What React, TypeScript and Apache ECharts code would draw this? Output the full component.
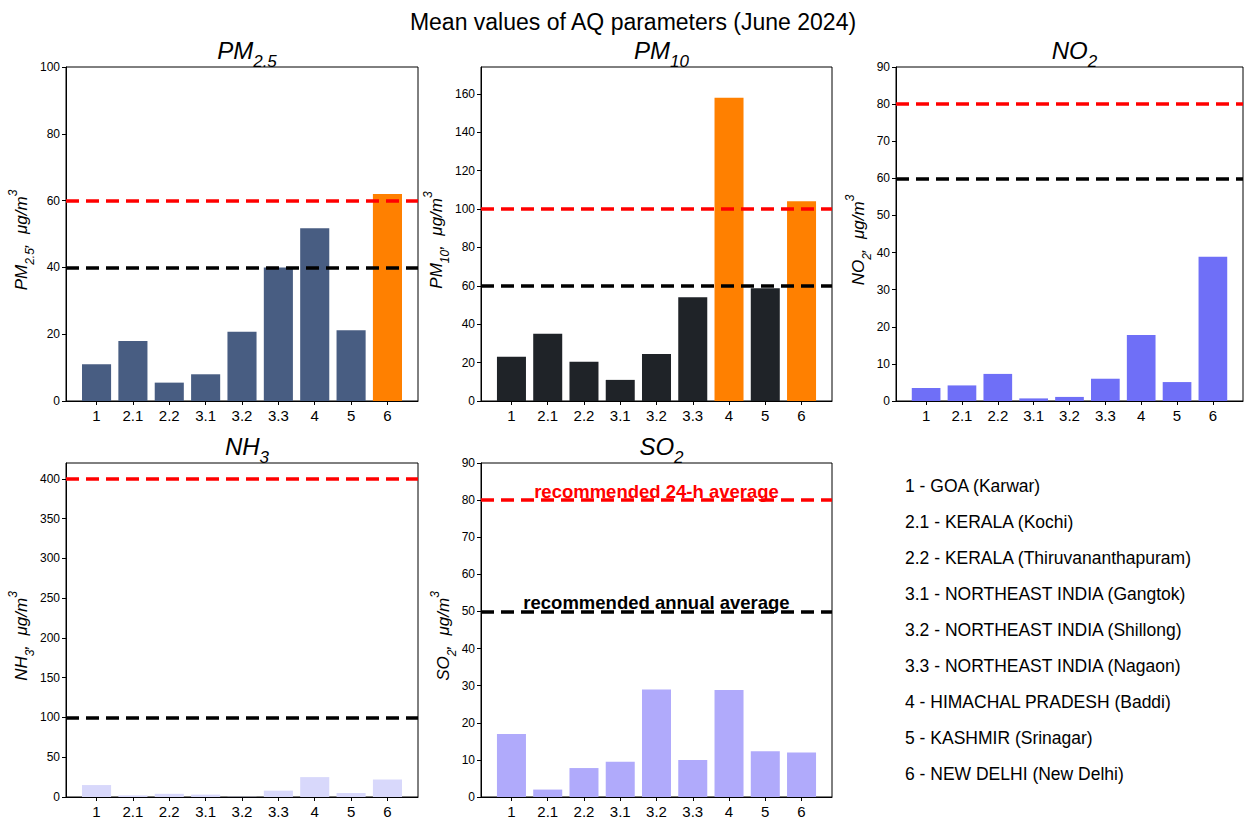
import React, { useEffect, useRef } from "react";
import * as echarts from "echarts";

const categories = ["1", "2.1", "2.2", "3.1", "3.2", "3.3", "4", "5", "6"];
const pm25 = [11, 18, 5.5, 8, 20.7, 40, 51.7, 21.2, 62];
const pm10 = [23, 35, 20.5, 11, 24.5, 54, 158, 58.8, 104];
const no2 = [3.5, 4.2, 7.3, 0.7, 1.1, 6, 17.8, 5.1, 38.9];
const nh3 = [15, 2, 4, 3, 0.3, 8, 25, 5, 22];
const so2 = [17, 2, 7.8, 9.5, 29, 10, 28.8, 12.3, 12];
const limits24h = [60, 100, 80, 400, 80];
const limitsAnnual = [40, 60, 60, 100, 50];
const yMax = [100, 174, 90, 420, 90];
const yInterval = [20, 20, 10, 50, 10];
const legendLines = [
  "1 - GOA (Karwar)",
  "2.1 - KERALA (Kochi)",
  "2.2 - KERALA (Thiruvananthapuram)",
  "3.1 - NORTHEAST INDIA (Gangtok)",
  "3.2 - NORTHEAST INDIA (Shillong)",
  "3.3 - NORTHEAST INDIA (Nagaon)",
  "4 - HIMACHAL PRADESH (Baddi)",
  "5 - KASHMIR (Srinagar)",
  "6 - NEW DELHI (New Delhi)",
];

const FONT = "Liberation Sans, Arial, sans-serif";

export default function App() {
  const ref = useRef<HTMLDivElement>(null);
  useEffect(() => {
    document.body.style.margin = "0";
    const chart = echarts.init(ref.current!, null, { renderer: "svg" });
    const grids = [
      { left: 66, top: 67, width: 352, height: 334 },
      { left: 481, top: 67, width: 351, height: 334 },
      { left: 896, top: 67, width: 347, height: 334 },
      { left: 66, top: 463, width: 352, height: 334 },
      { left: 481, top: 463, width: 351, height: 334 },
    ];
    const datasets = [pm25, pm10, no2, nh3, so2];
    const baseColors = ["#485d82", "#1f2328", "#6f6ff7", "#d8d8fb", "#b0aafb"];
    const exceedColor = "#ff8000";
    const mainNames = ["PM", "PM", "NO", "NH", "SO"];
    const subs = ["2.5", "10", "2", "3", "2"];
    const n = categories.length;
    const xMin = -0.4 - 0.05 * (n - 1 + 0.8);
    const xMax = n - 1 + 0.4 + 0.05 * (n - 1 + 0.8);
    const idx = categories.map((_, k) => k);

    const richName = {
      i: { fontStyle: "italic", fontSize: 17, fontFamily: FONT, color: "#000" },
      s: { fontStyle: "italic", fontSize: 12, fontFamily: FONT, color: "#000", verticalAlign: "bottom", padding: [0, 0, -6, 0] },
      p: { fontStyle: "italic", fontSize: 12, fontFamily: FONT, color: "#000", verticalAlign: "top", padding: [-6, 0, 0, 0] },
    };
    const richTitle = {
      i: { fontStyle: "italic", fontWeight: "normal", fontSize: 24, fontFamily: FONT, color: "#000" },
      s: { fontStyle: "italic", fontWeight: "normal", fontSize: 17, fontFamily: FONT, color: "#000", verticalAlign: "bottom", padding: [0, 0, -8, 0] },
    };

    const option: any = {
      animation: false,
      backgroundColor: "#fff",
      title: [
        {
          text: "Mean values of AQ parameters (June 2024)",
          left: 628,
          top: 5,
          textAlign: "center",
          textStyle: { fontFamily: FONT, fontSize: 23, fontWeight: "normal", color: "#000" },
        },
        ...grids.map((g, i) => ({
          text: `{i|${mainNames[i]}}{s|${subs[i]}}`,
          left: g.left + g.width / 2,
          top: g.top - 34,
          textAlign: "center",
          textStyle: { rich: richTitle, fontWeight: "normal" },
        })),
      ],
      grid: grids.map((g) => ({ ...g, show: true, borderColor: "#000", borderWidth: 1, backgroundColor: "transparent" })),
      xAxis: grids.map((_, i) => ({
        type: "value",
        gridIndex: i,
        min: xMin,
        max: xMax,
        splitLine: { show: false },
        axisLine: { show: true, onZero: false, lineStyle: { color: "#000" } },
        axisTick: { show: true, customValues: idx, length: 4, lineStyle: { color: "#000" } },
        axisLabel: {
          customValues: idx,
          formatter: (v: number) => categories[Math.round(v)] ?? "",
          color: "#000",
          fontSize: 15,
          fontFamily: FONT,
          margin: 7,
        },
      })),
      yAxis: grids.map((_, i) => ({
        type: "value",
        gridIndex: i,
        min: 0,
        max: yMax[i],
        interval: yInterval[i],
        splitLine: { show: false },
        axisLine: { show: true, onZero: false, lineStyle: { color: "#000" } },
        axisTick: { show: true, length: 4, lineStyle: { color: "#000" } },
        axisLabel: { color: "#000", fontSize: 12, fontFamily: FONT, margin: 6, showMaxLabel: yMax[i] % yInterval[i] === 0 },
        name: `{i|${mainNames[i]}}{s|${subs[i]}}{i|,  μg/m}{p|3}`,
        nameLocation: "middle",
        nameRotate: 90,
        nameGap: i === 1 || i === 3 ? 35 : i === 4 ? 28 : 29,
        nameTextStyle: { rich: richName, padding: [0, 12, 0, 0] },
      })),
      series: datasets.map((d, i) => ({
        type: "bar",
        xAxisIndex: i,
        yAxisIndex: i,
        barWidth: (grids[i].width * 0.8) / (xMax - xMin),
        data: d.map((v, k) => ({
          value: [k, v],
          itemStyle: { color: i < 2 && v > limits24h[i] ? exceedColor : baseColors[i] },
        })),
        markLine: {
          silent: true,
          symbol: "none",
          data: [
            {
              yAxis: limits24h[i],
              lineStyle: { color: "#ff0000", width: 3.5, type: [13, 7] },
              label: i === 4
                ? { show: true, position: "insideMiddleTop", formatter: "recommended 24-h average", color: "#ff0000", fontWeight: "bold", fontSize: 18.5, fontFamily: FONT, distance: -1 }
                : { show: false },
            },
            {
              yAxis: limitsAnnual[i],
              lineStyle: { color: "#000000", width: 3.5, type: [13, 7] },
              label: i === 4
                ? { show: true, position: "insideMiddleTop", formatter: "recommended annual average", color: "#000", fontWeight: "bold", fontSize: 18.5, fontFamily: FONT, distance: -1 }
                : { show: false },
            },
          ],
        },
      })),
      graphic: legendLines.map((t, k) => ({
        type: "text",
        left: 905,
        top: 477 + k * 36,
        style: { text: t, fontSize: 17.5, fontFamily: FONT, fill: "#000" },
      })),
    };
    chart.setOption(option);
    return () => chart.dispose();
  }, []);
  return <div ref={ref} style={{ width: 1244, height: 821 }} />;
}
